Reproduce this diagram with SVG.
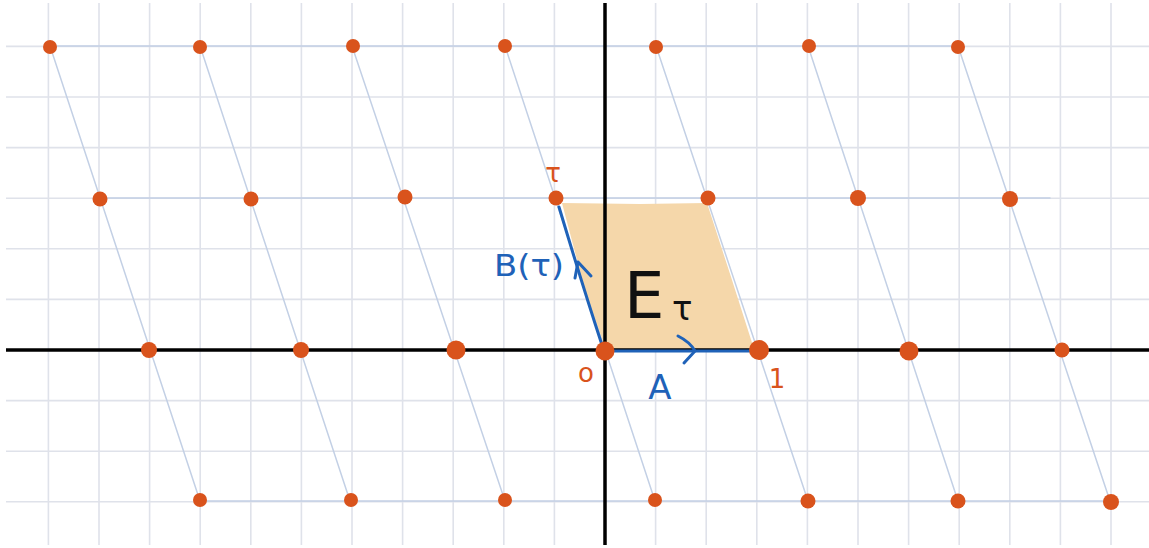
<svg xmlns="http://www.w3.org/2000/svg" width="1149" height="548" viewBox="0 0 1149 548">
<style>
.grid{stroke:#dfe2ea;stroke-width:1.6;fill:none}
.lat{stroke:#c3d0e5;stroke-width:1.5;fill:none;stroke-linecap:round}
.axis{stroke:#000;stroke-width:3.5;fill:none}
.dot{fill:#d9531c}
.blue{stroke:#1f62b8;stroke-width:3;fill:none;stroke-linecap:round;stroke-linejoin:round}
.tb{fill:#1f62b8;font-family:"DejaVu Sans",sans-serif}
.to{fill:#d9531c;font-family:"DejaVu Sans",sans-serif}
.tk{fill:#111;font-family:"DejaVu Sans",sans-serif}
</style>
<rect width="1149" height="548" fill="#fff"/>
<g id="grid" class="grid">
<path d="M48.4 3V545M99 3V545M149.6 3V545M200.2 3V545M250.8 3V545M301.4 3V545M352 3V545M402.6 3V545M453.2 3V545M503.8 3V545M554.4 3V545M655.6 3V545M706.2 3V545M756.8 3V545M807.4 3V545M858 3V545M908.6 3V545M959.2 3V545M1009.8 3V545M1060.4 3V545M1111 3V545"/>
<path d="M6 46.4H1149M6 97H1149M6 147.6H1149M6 198.2H1149M6 248.8H1149M6 299.4H1149M6 400.6H1149M6 451.2H1149M6 501.8H1149"/>
</g>
<g id="connectors">
<g class="lat">
<path d="M50 46H958M100 198H1050M200 501H1110"/>
<path d="M50 46L200 501M200 46L350 501M352 46L505 501M505 46L655 501M656 46L808 501M808 46L958 501M958 46L1110 501"/>
</g>
</g>
<g id="cell">
<path d="M606 350L754 349L732 280L707 203L640 204L562 203L585 290Z" fill="#f5d7aa"/>
</g>
<g id="axes" class="axis">
<path d="M605 3V545"/>
<path d="M6 350H1149"/>
</g>
<g id="arrow-A">
<path class="blue" d="M610 351H755"/>
<path class="blue" d="M678 336Q690 342 695 351L684 363"/>
</g>
<g id="arrow-B">
<path class="blue" d="M602 345Q583 287 559 207"/>
<path class="blue" d="M575 278L578 262L591 276"/>
</g>
<g id="lattice-points">
<circle class="dot" cx="50" cy="47" r="7"/>
<circle class="dot" cx="200" cy="47" r="7"/>
<circle class="dot" cx="353" cy="46" r="7"/>
<circle class="dot" cx="505" cy="46" r="7"/>
<circle class="dot" cx="656" cy="47" r="7"/>
<circle class="dot" cx="809" cy="46" r="7"/>
<circle class="dot" cx="958" cy="47" r="7"/>
<circle class="dot" cx="100" cy="199" r="7.5"/>
<circle class="dot" cx="251" cy="199" r="7.5"/>
<circle class="dot" cx="405" cy="197" r="7.5"/>
<circle class="dot" cx="556" cy="198" r="7.5"/>
<circle class="dot" cx="708" cy="198" r="7.5"/>
<circle class="dot" cx="858" cy="198" r="8"/>
<circle class="dot" cx="1010" cy="199" r="8"/>
<circle class="dot" cx="149" cy="350" r="8"/>
<circle class="dot" cx="301" cy="350" r="8"/>
<circle class="dot" cx="456" cy="350" r="9.5"/>
<circle class="dot" cx="605" cy="351" r="9.5"/>
<circle class="dot" cx="759" cy="350" r="10"/>
<circle class="dot" cx="909" cy="351" r="9.5"/>
<circle class="dot" cx="1062" cy="350" r="7.5"/>
<circle class="dot" cx="200" cy="500" r="7"/>
<circle class="dot" cx="351" cy="500" r="7"/>
<circle class="dot" cx="505" cy="500" r="7"/>
<circle class="dot" cx="655" cy="500" r="7"/>
<circle class="dot" cx="808" cy="501" r="7.5"/>
<circle class="dot" cx="958" cy="501" r="7.5"/>
<circle class="dot" cx="1111" cy="502" r="8"/>
</g>
<g id="labels">
<text class="to" x="553" y="182" font-size="26" text-anchor="middle">τ</text>
<text class="tb" x="494" y="276" font-size="30" textLength="70" lengthAdjust="spacingAndGlyphs">B(τ)</text>
<text class="tk" x="624" y="318" font-size="64">E</text>
<text class="tk" x="672" y="320" font-size="34">τ</text>
<text class="to" x="586" y="382" font-size="26" text-anchor="middle">o</text>
<text class="tb" x="660" y="399" font-size="34" text-anchor="middle">A</text>
<text class="to" x="777" y="388" font-size="26" text-anchor="middle">1</text>
</g>
</svg>
